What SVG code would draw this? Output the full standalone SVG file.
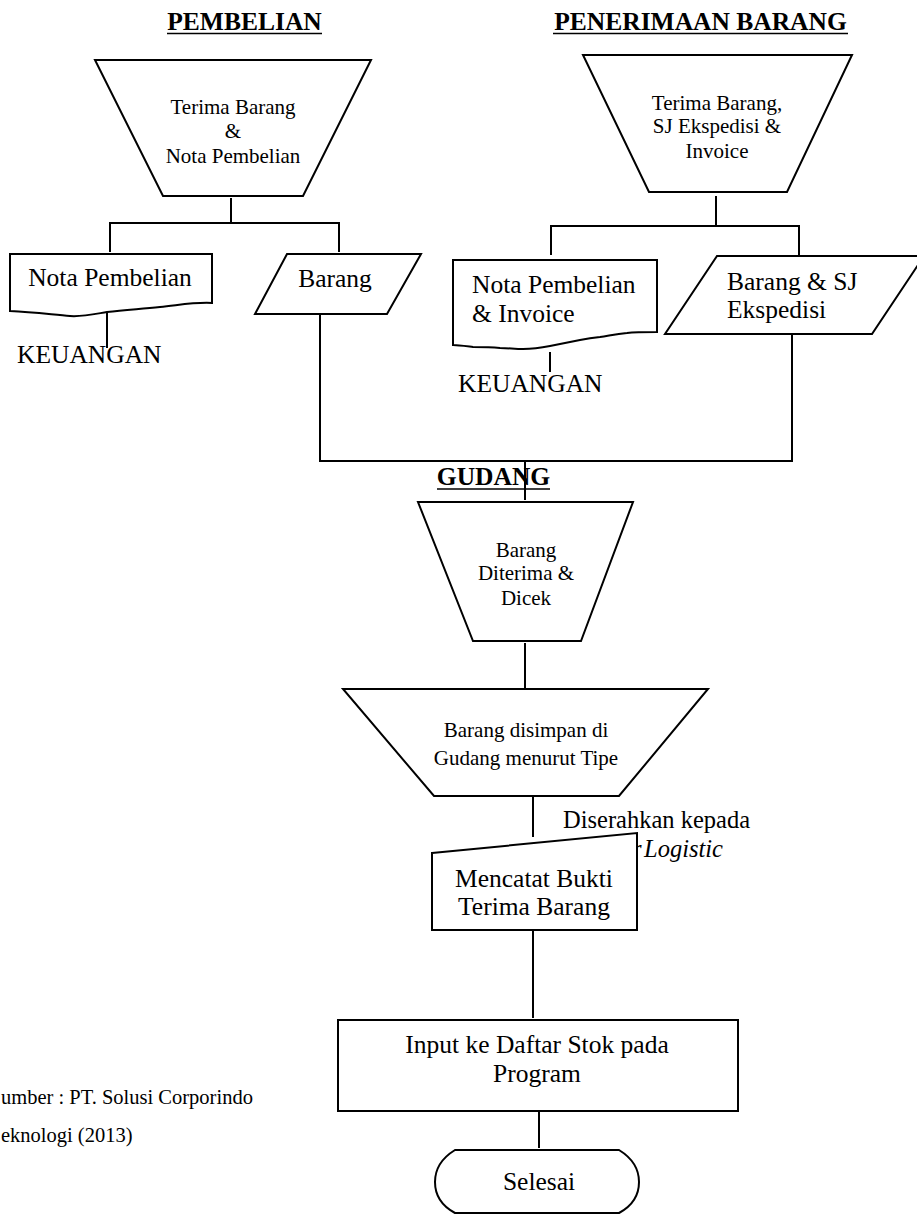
<svg xmlns="http://www.w3.org/2000/svg" width="917" height="1215" viewBox="0 0 917 1215">
<style>
.s{fill:#fff;stroke:#000;stroke-width:2;stroke-linejoin:miter}
.c{fill:none;stroke:#000;stroke-width:2}
.u{stroke:#000;stroke-width:1.6}
text{font-family:"Liberation Serif","Times New Roman",serif;fill:#000}
.h{font-size:25.5px;font-weight:bold;text-anchor:middle}
.m{font-size:21px;text-anchor:middle}
.l{font-size:25.5px}
.lm{font-size:25.5px;text-anchor:middle}
.d{font-size:24.5px}
.src{font-size:20.5px}
</style>
<rect width="917" height="1215" fill="#fff"/>
<g id="titles">
<text class="h" x="244.5" y="30">PEMBELIAN</text>
<line class="u" x1="167" y1="33.5" x2="322" y2="33.5"/>
<text class="h" x="700.5" y="30">PENERIMAAN BARANG</text>
<line class="u" x1="553" y1="33.5" x2="848" y2="33.5"/>
</g>
<g id="connectors">
<path class="c" d="M231,198V223M110,223H339M110,222V252M339,222V252"/>
<path class="c" d="M107,312V348"/>
<path class="c" d="M320,310V461H792V334"/>
<path class="c" d="M716,196V226M551,226H799M551,225V255M799,225V255"/>
<path class="c" d="M550,352V372"/>
<path class="c" d="M525,461V500"/>
<path class="c" d="M525,643V689"/>
<path class="c" d="M533,796V837"/>
<path class="c" d="M533,930V1018"/>
<path class="c" d="M539,1111V1148"/>
</g>
<g id="gudang-title">
<text class="h" x="493.5" y="485">GUDANG</text>
<line class="u" x1="437" y1="489" x2="550" y2="489"/>
<line class="c" x1="525" y1="463" x2="525" y2="497"/>
</g>
<g id="n-terima-pembelian">
<polygon class="s" points="95,60 371,60 303,196 163,196"/>
<text class="m" x="233" y="114">Terima Barang</text>
<text class="m" x="233" y="138">&amp;</text>
<text class="m" x="233" y="163">Nota Pembelian</text>
</g>
<g id="n-nota-pembelian">
<path class="s" d="M10,254H212V303C195,302 180,305 160,307C140,309 125,310 107,312C95,314 82,317 70,316C55,315 35,312 10,311Z"/>
<text class="lm" x="110" y="286">Nota Pembelian</text>
</g>
<g id="n-keuangan-1">
<text class="l" x="17" y="363">KEUANGAN</text>
</g>
<g id="n-barang">
<polygon class="s" points="287,254 421,254 387,314 255,314"/>
<text class="lm" x="335" y="287">Barang</text>
</g>
<g id="n-terima-penerimaan">
<polygon class="s" points="583,55 852,55 787,192 649,192"/>
<text class="m" x="717" y="110">Terima Barang,</text>
<text class="m" x="717" y="133">SJ Ekspedisi &amp;</text>
<text class="m" x="717" y="158">Invoice</text>
</g>
<g id="n-nota-invoice">
<path class="s" d="M453,260H657V332C645,332 635,332 627,333C615,334 608,336 600,337C590,338 585,339 580,340C570,342 560,344 550,346C540,348 532,349 523,349C515,349 508,348 500,348C490,347 480,347 473,347C465,346 458,345 453,345Z"/>
<text class="l" x="472" y="293">Nota Pembelian</text>
<text class="l" x="472" y="322">&amp; Invoice</text>
</g>
<g id="n-keuangan-2">
<text class="l" x="458" y="392">KEUANGAN</text>
</g>
<g id="n-barang-sj">
<polygon class="s" points="717,256 924,256 872,334 665,334"/>
<text class="l" x="727" y="290">Barang &amp; SJ</text>
<text class="l" x="727" y="318">Ekspedisi</text>
</g>
<g id="n-diterima-dicek">
<polygon class="s" points="418,502 633,502 581,641 473,641"/>
<text class="m" x="526" y="557">Barang</text>
<text class="m" x="526" y="580">Diterima &amp;</text>
<text class="m" x="526" y="605">Dicek</text>
</g>
<g id="n-disimpan">
<polygon class="s" points="343,689 708,689 619,796 434,796"/>
<text class="m" x="526" y="737">Barang disimpan di</text>
<text class="m" x="526" y="765">Gudang menurut Tipe</text>
</g>
<g id="n-diserahkan-label">
<text class="d" x="563" y="828">Diserahkan kepada</text>
<text class="d" y="857" font-style="italic"><tspan x="632">r</tspan><tspan x="644">Logistic</tspan></text>
</g>
<g id="n-mencatat">
<polygon class="s" points="432,853 637,833 637,930 432,930"/>
<text class="lm" x="534" y="887">Mencatat Bukti</text>
<text class="lm" x="534" y="915">Terima Barang</text>
</g>
<g id="n-input">
<rect class="s" x="338" y="1020" width="400" height="91"/>
<text class="lm" x="537" y="1053">Input ke Daftar Stok pada</text>
<text class="lm" x="537" y="1082">Program</text>
</g>
<g id="n-selesai">
<path class="s" d="M455,1150H619C632,1158 639,1168 639,1182C639,1196 632,1206 619,1213H455C442,1206 435,1196 435,1182C435,1168 442,1158 455,1150Z"/>
<text class="lm" x="539" y="1190">Selesai</text>
</g>
<g id="source">
<text class="src" x="1" y="1104">umber : PT. Solusi Corporindo</text>
<text class="src" x="1" y="1142">eknologi (2013)</text>
</g>
</svg>
